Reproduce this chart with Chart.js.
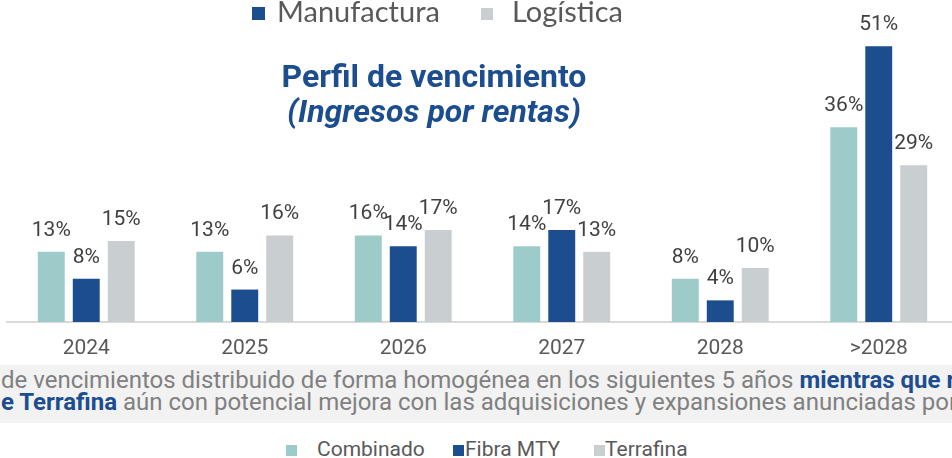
<!DOCTYPE html>
<html>
<head>
<meta charset="utf-8">
<script src="https://cdn.jsdelivr.net/npm/chart.js@4.4.1/dist/chart.umd.min.js"></script>
<style>
  html, body { margin: 0; padding: 0; background: #fff; }
  body { width: 952px; height: 458px; overflow: hidden; position: relative; font-family: Roboto, sans-serif; }
  #wrap { position: absolute; left: 0; top: 0; width: 960px; height: 362px; }
  .abs { position: absolute; white-space: nowrap; }
  .sq { position: absolute; }
  .topleg { font-family: Lato, sans-serif; font-size: 29px; line-height: 29px; color: #595959; }
  #title { left: 234px; width: 400px; top: 59px; text-align: center; color: #1c4e8f; font-weight: bold; font-size: 32px; line-height: 35px; }
  #band { position: absolute; left: 0; top: 365px; width: 952px; height: 58px; background: #f2f2f2; overflow: hidden; }
  #band div { position: absolute; left: 1px; white-space: nowrap; font-size: 24px; line-height: 22px; color: #808080; }
  #band b { color: #1c4e8f; }
  .leg { font-size: 21px; line-height: 21px; color: #595959; }
</style>
</head>
<body>
<div id="wrap"><canvas id="chart"></canvas></div>

<div class="sq" style="left:252px;top:7px;width:13px;height:13px;background:#1c4e8f"></div>
<div class="abs topleg" style="left:277px;top:-4px">Manufactura</div>
<div class="sq" style="left:481px;top:8px;width:12px;height:12px;background:#c9ced1"></div>
<div class="abs topleg" style="left:512px;top:-4px">Logística</div>

<div id="title" class="abs">Perfil de vencimiento<br><i>(Ingresos por rentas)</i></div>

<div id="band">
  <div style="top:4px">de vencimientos distribuido de forma homogénea en los siguientes 5 años <b>mientras que r</b></div>
  <div style="top:26px"><b>e Terrafina</b> aún con potencial mejora con las adquisiciones y expansiones anunciadas por</div>
</div>

<div class="sq" style="left:286px;top:445px;width:11px;height:11px;background:#9dcbca"></div>
<div class="abs leg" style="left:317px;top:439px">Combinado</div>
<div class="sq" style="left:453px;top:445px;width:11px;height:11px;background:#1c4e8f"></div>
<div class="abs leg" style="left:465px;top:439px">Fibra MTY</div>
<div class="sq" style="left:594px;top:445px;width:11px;height:11px;background:#c9ced1"></div>
<div class="abs leg" style="left:605px;top:439px">Terrafina</div>

<script>
const years = ['2024', '2025', '2026', '2027', '2028', '>2028'];
const combinado = [13, 13, 16, 14, 8, 36];
const fibraMty = [8, 6, 14, 17, 4, 51];
const terrafina = [15, 16, 17, 13, 10, 29];

// etiquetas de porcentaje encima de cada barra
const valueLabels = {
    id: 'valueLabels',
    afterDatasetsDraw(chart) {
        const ctx = chart.ctx;
        ctx.save();
        ctx.font = '21px Roboto';
        ctx.fillStyle = '#404040';
        ctx.textAlign = 'center';
        ctx.textBaseline = 'alphabetic';
        chart.data.datasets.forEach((ds, i) => {
            chart.getDatasetMeta(i).data.forEach((bar, j) => {
                ctx.fillText(ds.data[j] + '%', bar.x, bar.y - 16);
            });
        });
        ctx.restore();
    }
};

const ctx = document.getElementById('chart').getContext('2d');
new Chart(ctx, {
    type: 'bar',
    data: {
        labels: years,
        datasets: [
            { label: 'Combinado', data: combinado, backgroundColor: '#9dcbca' },
            { label: 'Fibra MTY', data: fibraMty, backgroundColor: '#1c4e8f' },
            { label: 'Terrafina', data: terrafina, backgroundColor: '#c9ced1' }
        ]
    },
    options: {
        responsive: true,
        maintainAspectRatio: false,
        animation: false,
        datasets: { bar: { categoryPercentage: 0.662, barPercentage: 0.77 } },
        layout: { padding: { top: 30, left: 7, right: 2, bottom: 0 } },
        plugins: {
            legend: { display: false },
            tooltip: { enabled: false }
        },
        scales: {
            x: {
                grid: { display: false, drawTicks: false },
                border: { display: true, color: '#d9d9d9', width: 2 },
                ticks: { color: '#595959', font: { family: 'Roboto', size: 21 }, padding: 14 },
                afterFit(scale) { scale.height = 40; }
            },
            y: {
                display: false,
                min: 0,
                max: 54
            }
        }
    },
    plugins: [valueLabels]
});
</script>
</body>
</html>
